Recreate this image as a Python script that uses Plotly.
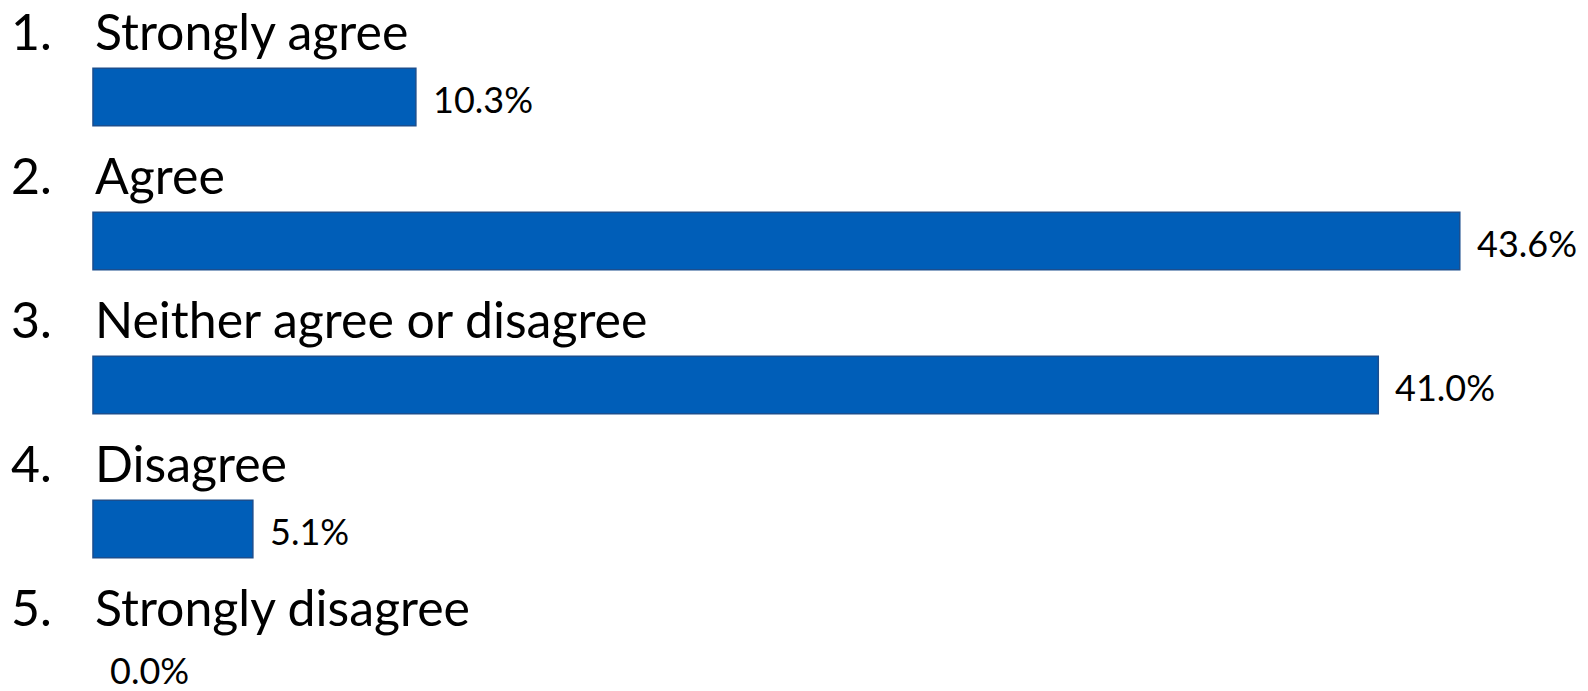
import plotly.graph_objects as go

# Survey responses
numbers = ["1.", "2.", "3.", "4.", "5."]
categories = ["Strongly agree", "Agree", "Neither agree or disagree", "Disagree", "Strongly disagree"]
percentages = [10.3, 43.6, 41.0, 5.1, 0.0]

W, H = 1588, 691
BAR_COLOR = "#005EB8"
EDGE_COLOR = "#1B4E8E"
FONT = "Lato"
VALUE_SIZE = 36

positions = list(range(len(categories)))
# no outline on empty bars so nothing is drawn for 0%
edge_widths = [1.5 if p > 0 else 0 for p in percentages]

fig = go.Figure(
    go.Bar(
        x=percentages,
        y=positions,
        orientation="h",
        width=0.40,
        marker=dict(color=BAR_COLOR, line=dict(color=EDGE_COLOR, width=edge_widths)),
        hoverinfo="skip",
    )
)

annotations = []
for pos, num, cat, pct in zip(positions, numbers, categories, percentages):
    # item number
    annotations.append(dict(
        x=9 / W, xref="paper", y=pos - 0.458, yref="y",
        text=num, showarrow=False, xanchor="left", yanchor="middle",
        font=dict(family=FONT, size=50, color="black"),
    ))
    # response text, aligned with the bar start
    annotations.append(dict(
        x=0, xref="x", y=pos - 0.458, yref="y",
        text=cat, showarrow=False, xanchor="left", yanchor="middle",
        font=dict(family=FONT, size=50, color="black"),
    ))
    # value label at the bar end; the last row is nudged up to stay on the canvas
    shift = 3 if pos == positions[-1] else -2
    annotations.append(dict(
        x=pct, xref="x", y=pos, yref="y", xshift=15, yshift=shift,
        text=f"{pct:.1f}%", showarrow=False, xanchor="left", yanchor="middle",
        font=dict(family=FONT, size=VALUE_SIZE, color="black"),
    ))

fig.update_layout(
    width=W, height=H,
    margin=dict(l=0, r=0, t=0, b=0),
    paper_bgcolor="white", plot_bgcolor="white",
    showlegend=False,
    xaxis=dict(range=[-2.966, 47.69], visible=False, fixedrange=True),
    yaxis=dict(range=[4.125, -0.674], visible=False, fixedrange=True),
    annotations=annotations,
)

fig.write_html("out.html")
